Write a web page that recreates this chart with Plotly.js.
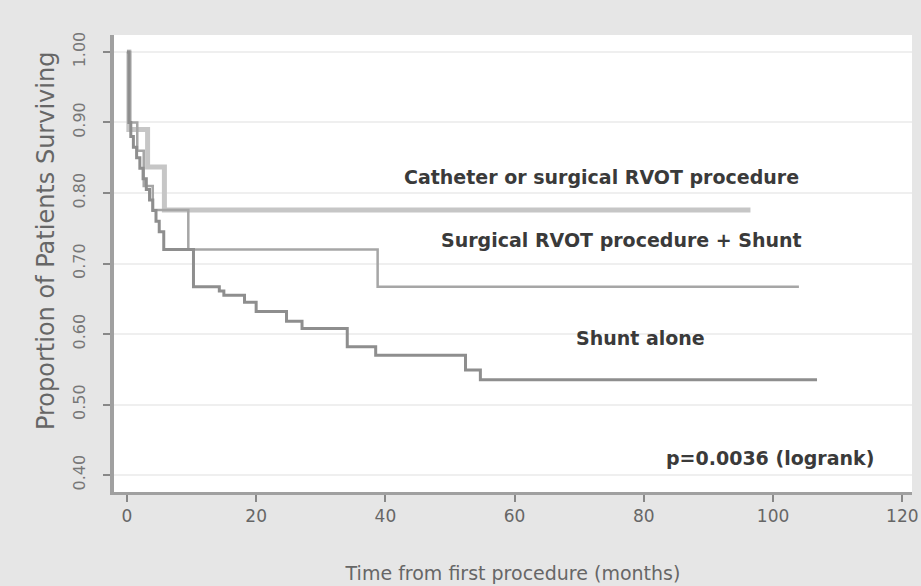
<!DOCTYPE html>
<html>
<head>
<meta charset="utf-8">
<script src="https://cdn.plot.ly/plotly-3.0.1.min.js"></script>
<style>html,body{margin:0;padding:0;background:#e6e6e6;}#chart{width:921px;height:586px;}</style>
</head>
<body>
<div id="chart"></div>
<script>
// Kaplan-Meier step data (months, proportion surviving)
var catheterX = [0, 0.3, 3.2, 5.8, 96.5];
var catheterY = [1.00, 0.89, 0.837, 0.776, 0.776];

var surgShuntX = [0, 0.5, 1.6, 2.6, 4.0, 9.5, 38.8, 104];
var surgShuntY = [1.00, 0.90, 0.86, 0.81, 0.776, 0.720, 0.667, 0.667];

var shuntX = [0, 0.3, 0.6, 1.0, 1.5, 2.0, 2.5, 3.0, 3.5, 4.0, 4.5, 5.0, 5.7, 10.3, 14.3, 15.0, 18.2, 20.0, 24.7, 27.1, 34.1, 38.5, 52.4, 54.7, 106.8];
var shuntY = [1.00, 0.90, 0.88, 0.865, 0.85, 0.835, 0.82, 0.805, 0.79, 0.775, 0.76, 0.745, 0.720, 0.667, 0.661, 0.655, 0.645, 0.632, 0.618, 0.608, 0.582, 0.570, 0.549, 0.535, 0.535];

var yTicks = [0.40, 0.50, 0.60, 0.70, 0.80, 0.90, 1.00];
var yTickText = ["0.40", "0.50", "0.60", "0.70", "0.80", "0.90", "1.00"];
var xTicks = [0, 20, 40, 60, 80, 100, 120];

var traces = [
  {x: catheterX, y: catheterY, mode: 'lines', line: {shape: 'hv', color: '#c6c6c6', width: 5}, name: 'Catheter or surgical RVOT procedure'},
  {x: surgShuntX, y: surgShuntY, mode: 'lines', line: {shape: 'hv', color: '#a6a6a6', width: 2.5}, name: 'Surgical RVOT procedure + Shunt'},
  {x: shuntX, y: shuntY, mode: 'lines', line: {shape: 'hv', color: '#8e8e8e', width: 3}, name: 'Shunt alone'}
];

var annFont = {family: 'DejaVu Sans, sans-serif', size: 19, color: '#3a3a3a'};

var layout = {
  width: 921, height: 586,
  paper_bgcolor: '#e6e6e6',
  plot_bgcolor: '#ffffff',
  showlegend: false,
  margin: {l: 114, r: 9, t: 35, b: 94},
  font: {family: 'DejaVu Sans, sans-serif', color: '#666'},
  xaxis: {
    range: [-2.0, 121.5],
    tickvals: xTicks,
    ticks: 'outside', ticklen: 7, tickwidth: 2, tickcolor: '#888',
    showline: true, linecolor: '#a0a0a0', linewidth: 3,
    showgrid: false, zeroline: false,
    tickfont: {size: 17, color: '#666'},
    title: {text: 'Time from first procedure (months)', font: {size: 19, color: '#666'}, standoff: 42}
  },
  yaxis: {
    range: [0.376, 1.024],
    tickvals: yTicks, ticktext: yTickText,
    tickangle: -90,
    ticks: 'outside', ticklen: 7, tickwidth: 2, tickcolor: '#888',
    ticklabelstandoff: 12,
    showline: true, linecolor: '#a0a0a0', linewidth: 4,
    showgrid: true, gridcolor: '#efefef', gridwidth: 2,
    zeroline: false,
    tickfont: {size: 16, color: '#777'}
  },
  annotations: [
    {x: -0.086, y: 0.55, xref: 'paper', yref: 'paper', xanchor: 'center', yanchor: 'middle', text: 'Proportion of Patients Surviving', textangle: -90, showarrow: false, font: {family: 'DejaVu Sans, sans-serif', size: 24, color: '#666'}},
    {x: 73.5, y: 0.823, xref: 'x', yref: 'y', text: '<b>Catheter or surgical RVOT procedure</b>', showarrow: false, font: annFont},
    {x: 76.5, y: 0.733, xref: 'x', yref: 'y', text: '<b>Surgical RVOT procedure + Shunt</b>', showarrow: false, font: annFont},
    {x: 79.5, y: 0.595, xref: 'x', yref: 'y', text: '<b>Shunt alone</b>', showarrow: false, font: annFont},
    {x: 99.5, y: 0.424, xref: 'x', yref: 'y', text: '<b>p=0.0036 (logrank)</b>', showarrow: false, font: annFont}
  ]
};

Plotly.newPlot('chart', traces, layout, {displayModeBar: false, staticPlot: true});
</script>
</body>
</html>
